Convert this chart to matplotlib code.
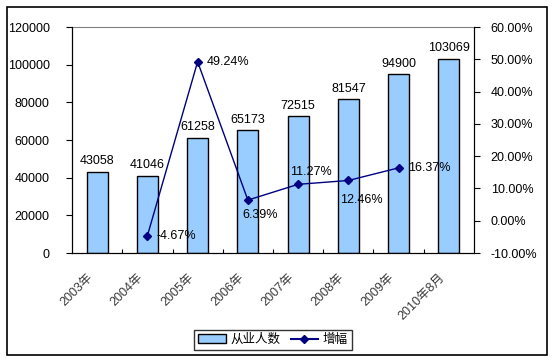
import matplotlib
matplotlib.use("Agg")
from matplotlib import pyplot as plt
from matplotlib.patches import Rectangle
from matplotlib.lines import Line2D
import numpy as np

plt.rcParams['font.family'] = ['Liberation Sans', 'Noto Sans CJK SC', 'DejaVu Sans']

years = ["2003年", "2004年", "2005年", "2006年", "2007年", "2008年", "2009年", "2010年8月"]
workers = [43058, 41046, 61258, 65173, 72515, 81547, 94900, 103069]
# growth starts at 2004, none for 2010
growth = [-4.67, 49.24, 6.39, 11.27, 12.46, 16.37]
growth_labels = ["-4.67%", "49.24%", "6.39%", "11.27%", "12.46%", "16.37%"]

W, H = 554, 362
fig = plt.figure(figsize=(W / 100, H / 100), dpi=100)
fig.patch.set_facecolor("white")
fig.patches.append(Rectangle((7 / W, 7 / H), 540 / W, 348 / H, transform=fig.transFigure,
                             fill=False, edgecolor="black", linewidth=1.2))

ax = fig.add_axes([72 / W, 1 - 253 / H, 402 / W, 226 / H])
x = np.arange(len(years))
ax.bar(x, workers, width=0.42, color="#99CCFF", edgecolor="black", linewidth=1.0, zorder=2)
ax.set_xlim(-0.5, len(years) - 0.5)
ax.set_ylim(0, 120000)
ax.set_yticks(range(0, 120001, 20000))
ax.tick_params(axis="y", labelsize=9, length=4, direction="out", pad=12)
ax.set_xticks(np.arange(0.5, len(years) - 0.5), minor=False)
ax.set_xticklabels([])
ax.tick_params(axis="x", length=3, direction="in")
for i, y in enumerate(years):
    ax.text(i - 0.12, -0.1, y, transform=ax.get_xaxis_transform(), rotation=45,
            rotation_mode="anchor", ha="right", va="center", fontsize=9, color="#3a3a3a")
for i, v in enumerate(workers):
    ax.text(i, v + 2500, str(v), ha="center", va="bottom", fontsize=9)
ax.spines["top"].set_color("#808080")
for s in ["left", "bottom", "right"]:
    ax.spines[s].set_color("black")

ax2 = ax.twinx()
xg = x[1:1 + len(growth)]
ax2.plot(xg, growth, color="#000080", marker="D", markersize=4.5, linewidth=1.0, zorder=3)
ax2.set_ylim(-10, 60)
ax2.set_yticks(range(-10, 61, 10))
ax2.set_yticklabels([f"{t:.2f}%" for t in range(-10, 61, 10)])
ax2.tick_params(axis="y", labelsize=9, length=4, direction="out", pad=8)
ax2.spines["top"].set_visible(False)

# label offsets in points from the marker (left edge of text, vertical centre)
offs = [(6.5, 0), (6.5, 0), (-4.3, -11), (-5.8, 8.6), (-5.8, -13.7), (6.5, 0)]
for (dx, dy), gx, gv, lab in zip(offs, xg, growth, growth_labels):
    ax2.annotate(lab, (gx, gv), xytext=(dx, dy), textcoords="offset points",
                 ha="left", va="center", fontsize=9)

handles = [Rectangle((0, 0), 1, 1, facecolor="#99CCFF", edgecolor="black"),
           Line2D([0], [0], color="#000080", marker="D", markersize=4.5)]
fig.legend(handles, ["从业人数", "增幅"], loc="center", bbox_to_anchor=(273 / W, 1 - 340 / H),
           ncol=2, fontsize=9, frameon=True, fancybox=False, edgecolor="black",
           handlelength=2.2, columnspacing=0.8, handletextpad=0.4, borderpad=0.3)

fig.savefig("out.png", dpi=100)
